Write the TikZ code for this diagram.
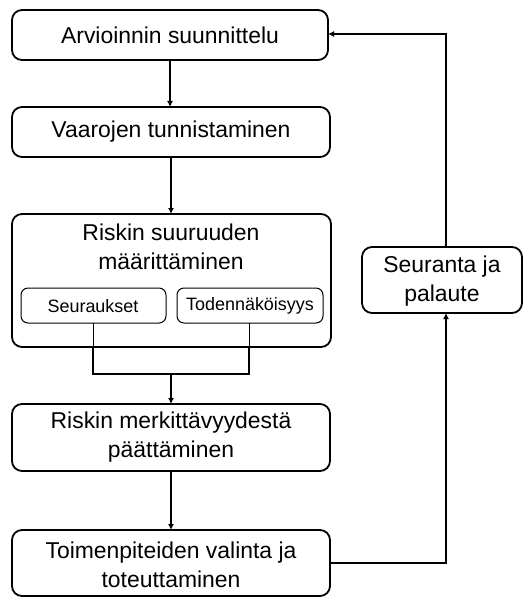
\documentclass[tikz,border=0pt]{standalone}
\usepackage{fontspec}
\setmainfont{Liberation Sans}
\usetikzlibrary{arrows.meta}
\begin{document}
\begin{tikzpicture}[x=1bp,y=-1bp,
  box/.style={draw,line width=1.8bp,rounded corners=10bp},
  sub/.style={draw,line width=1bp,rounded corners=7bp},
  conn/.style={line width=2.5bp},
  arr/.style={line width=2.5bp,-{Latex[length=6bp,width=6bp]}},
  big/.style={font=\fontsize{23}{29}\selectfont,align=center},
  small/.style={font=\fontsize{18}{20}\selectfont,align=center}]
\useasboundingbox (0,0) rectangle (530,597);
\fill[white] (0,0) rectangle (530,597);
% boxes
\draw[box] (12,10) rectangle (328,60);
\node[big] (a) at (170,35) {Arvioinnin suunnittelu};
\draw[box] (12,107) rectangle (330,157);
\node[big] (b) at (171,132) {Vaarojen tunnistaminen};
\draw[box] (12,214) rectangle (331,347);
\node[big] (c) at (171,247) {Riskin suuruuden\\määrittäminen};
\draw[sub] (21,288) rectangle (166,323);
\node[small] (s1) at (93,306) {Seuraukset};
\draw[sub] (177,288) rectangle (323,323);
\node[small] (s2) at (250,306) {Todennäköisyys};
\draw[box] (12,404) rectangle (330,471);
\node[big] (d) at (171,437) {Riskin merkittävyydestä\\päättäminen};
\draw[box] (12,530) rectangle (330,596);
\node[big] (e) at (171,565) {Toimenpiteiden valinta ja\\toteuttaminen};
\draw[box] (362,247) rectangle (522,313);
\node[big] (f) at (442,281) {Seuranta ja\\palaute};
% coordinates
\coordinate (a1) at (170,60); \coordinate (b0) at (170,107);
\coordinate (b1) at (171,157); \coordinate (c0) at (171,214);
\coordinate (s1b) at (93,323); \coordinate (s2b) at (249,323);
\coordinate (s1c) at (93,347); \coordinate (s2c) at (249,347);
\coordinate (j1) at (93,374); \coordinate (j2) at (249,374);
\coordinate (jm) at (171,374); \coordinate (d0) at (171,404);
\coordinate (d1) at (171,471); \coordinate (e0) at (171,530);
\coordinate (eR) at (330,563); \coordinate (fB) at (446,313);
\coordinate (fT) at (446,247); \coordinate (aR) at (328,34);
% connectors
\draw[arr] (a1) -- (b0);
\draw[arr] (b1) -- (c0);
\draw[line width=1bp] (s1b) -- (s1c);
\draw[line width=1bp] (s2b) -- (s2c);
\draw[conn] (s1c) -- (j1) -- (j2) -- (s2c);
\draw[arr] (jm) -- (d0);
\draw[arr] (d1) -- (e0);
\draw[arr] (eR) -| (fB);
\draw[arr] (fT) |- (aR);
\end{tikzpicture}
\end{document}
